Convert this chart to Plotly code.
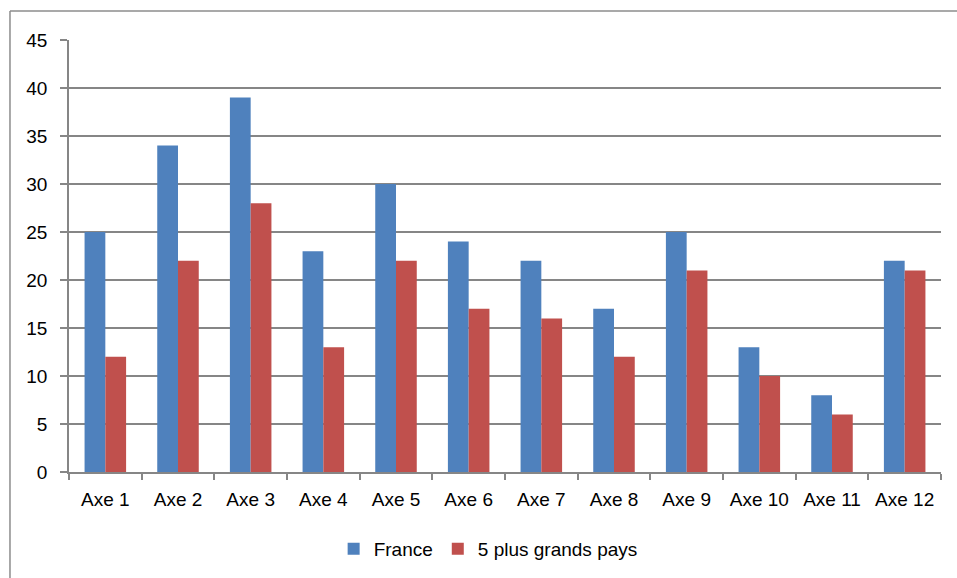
import plotly.graph_objects as go

categories = ["Axe 1", "Axe 2", "Axe 3", "Axe 4", "Axe 5", "Axe 6",
              "Axe 7", "Axe 8", "Axe 9", "Axe 10", "Axe 11", "Axe 12"]
france = [25, 34, 39, 23, 30, 24, 22, 17, 25, 13, 8, 22]
grands_pays = [12, 22, 28, 13, 22, 17, 16, 12, 21, 10, 6, 21]
y_ticks = [0, 5, 10, 15, 20, 25, 30, 35, 40, 45]

W, H = 957, 578
L, T = 69, 40
pw, ph = 871.7, 432
R, B = W - L - pw, H - T - ph

fig = go.Figure()
fig.add_trace(go.Bar(x=categories, y=france, name="France",
                     marker=dict(color="#4F81BD", line=dict(width=0))))
fig.add_trace(go.Bar(x=categories, y=grands_pays, name="5 plus grands pays",
                     marker=dict(color="#C0504D", line=dict(width=0))))

grid = "#868686"
fig.update_layout(
    width=W, height=H,
    margin=dict(l=L, r=R, t=T, b=B, autoexpand=False),
    paper_bgcolor="white", plot_bgcolor="white",
    barmode="group", bargap=1.5 / 3.5, bargroupgap=0,
    font=dict(family="Liberation Sans, Arial, sans-serif", size=19, color="#000000"),
    xaxis=dict(showgrid=False, showline=True, linecolor=grid, linewidth=1.5,
               ticks="outside", ticklen=6, tickcolor=grid, tickwidth=1.5,
               tickson="boundaries", ticklabelstandoff=9, tickfont=dict(size=19)),
    yaxis=dict(range=[0, 45], tickvals=y_ticks, showgrid=True, gridcolor=grid,
               gridwidth=1.5, showline=True, linecolor=grid, linewidth=1.5,
               ticks="outside", ticklen=7, tickcolor=grid, tickwidth=1.5,
               zeroline=False, ticklabelstandoff=9, tickfont=dict(size=19)),
    legend=dict(orientation="h", x=(488 - 69) / pw, xanchor="center",
                y=(472 - 549) / ph, yanchor="middle",
                font=dict(size=19), itemwidth=30),
    showlegend=True,
)

# outer chart frame (only left and top edges visible in the reference)
fx0 = (10 - 69) / pw
fy1 = 1 + (40 - 11) / ph
frame = dict(color="#8c8c8c", width=1.5)
fig.add_shape(type="line", xref="paper", yref="paper",
              x0=fx0, x1=fx0, y0=fy1, y1=-(600 - 472) / ph,
              line=frame, layer="below")
fig.add_shape(type="line", xref="paper", yref="paper",
              x0=fx0, x1=(990 - 69) / pw, y0=fy1, y1=fy1,
              line=frame, layer="below")

fig.write_html(
    "out.html",
    config={"displayModeBar": False},
    post_script="document.body.style.margin='0';"
                "document.body.style.overflow='hidden';"
                "document.documentElement.style.overflow='hidden';",
)
